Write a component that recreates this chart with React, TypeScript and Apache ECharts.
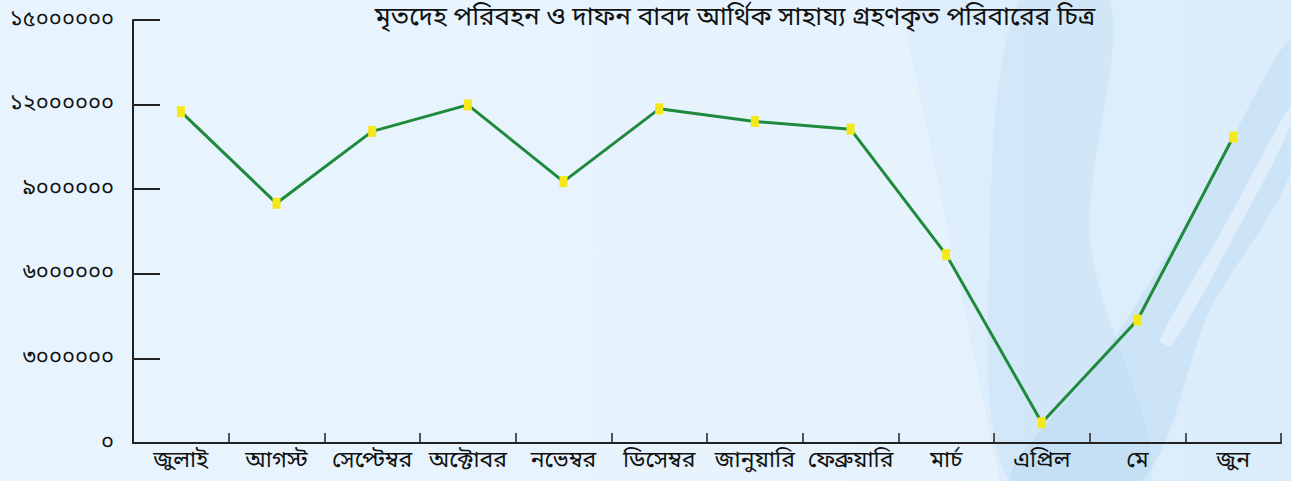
import React, { useEffect, useRef } from "react";
import * as echarts from "echarts";

const titleText = "মৃতদেহ পরিবহন ও দাফন বাবদ আর্থিক সাহায্য গ্রহণকৃত পরিবারের চিত্র";
const months = ["জুলাই", "আগস্ট", "সেপ্টেম্বর", "অক্টোবর", "নভেম্বর", "ডিসেম্বর", "জানুয়ারি", "ফেব্রুয়ারি", "মার্চ", "এপ্রিল", "মে", "জুন"];
const amounts = [11750000, 8500000, 11050000, 11990000, 9270000, 11850000, 11400000, 11130000, 6680000, 720000, 4360000, 10850000];
const yMin = 0;
const yMax = 15000000;
const yStep = 3000000;
const bnDigits = ["০", "১", "২", "৩", "৪", "৫", "৬", "৭", "৮", "৯"];

const toBn = (v: number) => String(v).replace(/[0-9]/g, (d) => bnDigits[Number(d)]);

export default function App() {
  const ref = useRef<HTMLDivElement>(null);
  useEffect(() => {
    if (!ref.current) return;
    const chart = echarts.init(ref.current, null, { renderer: "svg" });
    const font = "'Noto Sans Bengali', 'Noto Sans', sans-serif";
    chart.setOption({
      animation: false,
      backgroundColor: {
        type: "linear", x: 0, y: 0, x2: 1, y2: 0,
        colorStops: [
          { offset: 0, color: "#e8f4fd" },
          { offset: 0.65, color: "#e6f3fd" },
          { offset: 1, color: "#e2f0fb" },
        ],
      },
      graphic: [
        { type: "polygon", z: -10, silent: true, shape: { points: [[900, 0], [1291, 0], [1291, 481], [1000, 481]] }, style: { fill: "rgba(205,230,248,0.35)" } },
        { type: "polygon", z: -9, silent: true, shape: { points: [[1020, 0], [1110, 0], [1090, 240], [1150, 481], [1010, 481], [990, 240]], smooth: 0.3 }, style: { fill: "rgba(185,218,243,0.3)" } },
        { type: "polygon", z: -8, silent: true, shape: { points: [[1010, 481], [1100, 360], [1200, 200], [1291, 40], [1291, 170], [1210, 310], [1140, 481]], smooth: 0.3 }, style: { fill: "rgba(170,208,238,0.3)" } },
        { type: "polygon", z: -7, silent: true, shape: { points: [[1160, 340], [1225, 225], [1291, 105], [1291, 125], [1232, 240], [1172, 345]], smooth: 0.3 }, style: { fill: "rgba(246,251,255,0.45)" } },
      ],
      title: {
        text: titleText,
        left: 730,
        textAlign: "center",
        top: 0,
        textStyle: { fontFamily: font, fontSize: 26, fontWeight: "normal", color: "#111" },
      },
      grid: { left: 133, right: 10, top: 20, bottom: 38, containLabel: false },
      xAxis: {
        type: "category",
        data: months,
        boundaryGap: true,
        axisLine: { lineStyle: { color: "#222", width: 2 } },
        axisTick: { show: true, inside: true, length: 10, lineStyle: { color: "#222", width: 1.5 } },
        axisLabel: { fontFamily: font, fontSize: 23, color: "#111", margin: 6, interval: 0 },
        splitLine: { show: false },
      },
      yAxis: {
        type: "value",
        min: yMin,
        max: yMax,
        interval: yStep,
        axisLine: { show: true, lineStyle: { color: "#222", width: 2 } },
        axisTick: { show: true, inside: true, length: 27, lineStyle: { color: "#222", width: 2 } },
        axisLabel: { fontFamily: font, fontSize: 22, color: "#111", margin: 19, formatter: (v: number) => toBn(v) },
        splitLine: { show: false },
      },
      series: [
        {
          type: "line",
          data: amounts,
          symbol: "rect",
          symbolSize: [8, 11],
          itemStyle: { color: "#f4e81a", borderWidth: 0 },
          lineStyle: { color: "#1f8a3c", width: 3 },
          z: 3,
        },
      ],
    });
    return () => chart.dispose();
  }, []);
  return <div ref={ref} style={{ position: "fixed", left: 0, top: 0, width: 1291, height: 481 }} />;
}
